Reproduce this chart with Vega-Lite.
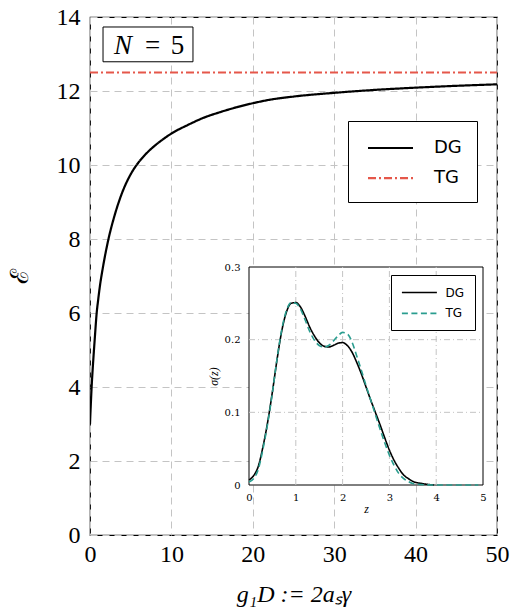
{
  "$schema": "https://vega.github.io/schema/vega-lite/v6.json",
  "width": 407,
  "height": 518,
  "autosize": {"type": "none"},
  "padding": {"left": 90, "top": 17, "right": 21, "bottom": 80},
  "background": "white",
  "config": {
    "font": "Liberation Serif",
    "view": {"stroke": "#000000", "strokeWidth": 1.2}
  },
  "datasets": {
    "main": [
      {"g": 0, "E": 3.0, "series": "DG"},
      {"g": 0.05, "E": 3.28, "series": "DG"},
      {"g": 0.1, "E": 3.53, "series": "DG"},
      {"g": 0.2, "E": 4.0, "series": "DG"},
      {"g": 0.3, "E": 4.38, "series": "DG"},
      {"g": 0.4, "E": 4.72, "series": "DG"},
      {"g": 0.6, "E": 5.35, "series": "DG"},
      {"g": 0.82, "E": 6.0, "series": "DG"},
      {"g": 1.0, "E": 6.35, "series": "DG"},
      {"g": 1.2, "E": 6.7, "series": "DG"},
      {"g": 1.6, "E": 7.25, "series": "DG"},
      {"g": 2.0, "E": 7.72, "series": "DG"},
      {"g": 2.25, "E": 7.98, "series": "DG"},
      {"g": 3, "E": 8.62, "series": "DG"},
      {"g": 4, "E": 9.28, "series": "DG"},
      {"g": 5, "E": 9.75, "series": "DG"},
      {"g": 5.5, "E": 9.93, "series": "DG"},
      {"g": 6, "E": 10.08, "series": "DG"},
      {"g": 7, "E": 10.33, "series": "DG"},
      {"g": 8, "E": 10.53, "series": "DG"},
      {"g": 9, "E": 10.7, "series": "DG"},
      {"g": 10, "E": 10.85, "series": "DG"},
      {"g": 12, "E": 11.08, "series": "DG"},
      {"g": 14, "E": 11.28, "series": "DG"},
      {"g": 16, "E": 11.43, "series": "DG"},
      {"g": 18, "E": 11.56, "series": "DG"},
      {"g": 20, "E": 11.67, "series": "DG"},
      {"g": 22, "E": 11.76, "series": "DG"},
      {"g": 25, "E": 11.85, "series": "DG"},
      {"g": 30, "E": 11.95, "series": "DG"},
      {"g": 35, "E": 12.03, "series": "DG"},
      {"g": 40, "E": 12.09, "series": "DG"},
      {"g": 45, "E": 12.14, "series": "DG"},
      {"g": 50, "E": 12.18, "series": "DG"},
      {"g": 0, "E": 12.5, "series": "TG"},
      {"g": 50, "E": 12.5, "series": "TG"}
    ],
    "inset": [
      {"z": 0, "s": 0.007, "series": "DG"},
      {"z": 0.1, "s": 0.013, "series": "DG"},
      {"z": 0.2, "s": 0.026, "series": "DG"},
      {"z": 0.3, "s": 0.053, "series": "DG"},
      {"z": 0.4, "s": 0.087, "series": "DG"},
      {"z": 0.5, "s": 0.128, "series": "DG"},
      {"z": 0.6, "s": 0.173, "series": "DG"},
      {"z": 0.7, "s": 0.212, "series": "DG"},
      {"z": 0.8, "s": 0.238, "series": "DG"},
      {"z": 0.9, "s": 0.25, "series": "DG"},
      {"z": 1.0, "s": 0.251, "series": "DG"},
      {"z": 1.1, "s": 0.245, "series": "DG"},
      {"z": 1.2, "s": 0.232, "series": "DG"},
      {"z": 1.3, "s": 0.217, "series": "DG"},
      {"z": 1.4, "s": 0.205, "series": "DG"},
      {"z": 1.5, "s": 0.196, "series": "DG"},
      {"z": 1.6, "s": 0.191, "series": "DG"},
      {"z": 1.7, "s": 0.19, "series": "DG"},
      {"z": 1.8, "s": 0.192, "series": "DG"},
      {"z": 1.9, "s": 0.195, "series": "DG"},
      {"z": 2.0, "s": 0.196, "series": "DG"},
      {"z": 2.1, "s": 0.192, "series": "DG"},
      {"z": 2.2, "s": 0.183, "series": "DG"},
      {"z": 2.3, "s": 0.169, "series": "DG"},
      {"z": 2.4, "s": 0.153, "series": "DG"},
      {"z": 2.5, "s": 0.135, "series": "DG"},
      {"z": 2.6, "s": 0.117, "series": "DG"},
      {"z": 2.7, "s": 0.1, "series": "DG"},
      {"z": 2.8, "s": 0.083, "series": "DG"},
      {"z": 2.9, "s": 0.065, "series": "DG"},
      {"z": 3.0, "s": 0.048, "series": "DG"},
      {"z": 3.1, "s": 0.034, "series": "DG"},
      {"z": 3.2, "s": 0.023, "series": "DG"},
      {"z": 3.3, "s": 0.014, "series": "DG"},
      {"z": 3.4, "s": 0.009, "series": "DG"},
      {"z": 3.5, "s": 0.005, "series": "DG"},
      {"z": 3.6, "s": 0.003, "series": "DG"},
      {"z": 3.7, "s": 0.002, "series": "DG"},
      {"z": 3.8, "s": 0.001, "series": "DG"},
      {"z": 3.9, "s": 0.0003, "series": "DG"},
      {"z": 3.95, "s": 0, "series": "DG"},
      {"z": 0, "s": 0.004, "series": "TG"},
      {"z": 0.1, "s": 0.009, "series": "TG"},
      {"z": 0.2, "s": 0.022, "series": "TG"},
      {"z": 0.3, "s": 0.05, "series": "TG"},
      {"z": 0.4, "s": 0.085, "series": "TG"},
      {"z": 0.5, "s": 0.127, "series": "TG"},
      {"z": 0.6, "s": 0.174, "series": "TG"},
      {"z": 0.7, "s": 0.214, "series": "TG"},
      {"z": 0.8, "s": 0.24, "series": "TG"},
      {"z": 0.9, "s": 0.251, "series": "TG"},
      {"z": 1.0, "s": 0.25, "series": "TG"},
      {"z": 1.1, "s": 0.242, "series": "TG"},
      {"z": 1.2, "s": 0.227, "series": "TG"},
      {"z": 1.3, "s": 0.211, "series": "TG"},
      {"z": 1.4, "s": 0.199, "series": "TG"},
      {"z": 1.5, "s": 0.192, "series": "TG"},
      {"z": 1.6, "s": 0.19, "series": "TG"},
      {"z": 1.7, "s": 0.192, "series": "TG"},
      {"z": 1.8, "s": 0.198, "series": "TG"},
      {"z": 1.9, "s": 0.205, "series": "TG"},
      {"z": 2.0, "s": 0.21, "series": "TG"},
      {"z": 2.1, "s": 0.208, "series": "TG"},
      {"z": 2.2, "s": 0.197, "series": "TG"},
      {"z": 2.3, "s": 0.178, "series": "TG"},
      {"z": 2.4, "s": 0.158, "series": "TG"},
      {"z": 2.5, "s": 0.137, "series": "TG"},
      {"z": 2.6, "s": 0.117, "series": "TG"},
      {"z": 2.7, "s": 0.097, "series": "TG"},
      {"z": 2.8, "s": 0.077, "series": "TG"},
      {"z": 2.9, "s": 0.058, "series": "TG"},
      {"z": 3.0, "s": 0.041, "series": "TG"},
      {"z": 3.1, "s": 0.027, "series": "TG"},
      {"z": 3.2, "s": 0.016, "series": "TG"},
      {"z": 3.3, "s": 0.009, "series": "TG"},
      {"z": 3.4, "s": 0.005, "series": "TG"},
      {"z": 3.5, "s": 0.002, "series": "TG"},
      {"z": 3.6, "s": 0.001, "series": "TG"},
      {"z": 3.8, "s": 0.0002, "series": "TG"},
      {"z": 4.0, "s": 0, "series": "TG"},
      {"z": 4.5, "s": 0, "series": "TG"},
      {"z": 4.9, "s": 0, "series": "TG"}
    ],
    "gridz": [{"z": 1}, {"z": 2}, {"z": 3}, {"z": 4}],
    "grids": [{"s": 0.1}, {"s": 0.2}],
    "label": [{"n": "N", "eq": "=", "v": "5"}]
  },
  "layer": [
    {
      "layer": [
        {
          "data": {"name": "main"},
          "mark": {"type": "line", "strokeWidth": 2.2, "clip": true, "interpolate": "monotone"},
          "encoding": {
            "x": {
              "field": "g", "type": "quantitative",
              "scale": {"domain": [0, 50], "nice": false, "zero": false},
              "title": "g₁D := 2aₛγ",
              "axis": {
                "values": [0, 10, 20, 30, 40, 50], "format": "d",
                "labelFont": "Liberation Serif", "labelFontSize": 24, "labelColor": "#000",
                "labelPadding": 7, "labelFlush": false, "labelOverlap": false, "ticks": false, "domain": false,
                "grid": true, "gridColor": "#c4c4c4", "gridDash": [7, 5], "gridWidth": 1,
                "titleFont": "Liberation Serif", "titleFontSize": 24, "titleFontWeight": "normal", "titleFontStyle": "italic",
                "titleColor": "#000", "titlePadding": 16
              }
            },
            "y": {
              "field": "E", "type": "quantitative",
              "scale": {"domain": [0, 14], "nice": false, "zero": false},
              "title": "ℰ",
              "axis": {
                "values": [0, 2, 4, 6, 8, 10, 12, 14], "format": "d",
                "labelFont": "Liberation Serif", "labelFontSize": 24, "labelColor": "#000",
                "labelPadding": 10, "labelOverlap": false, "labelFlush": false, "ticks": false, "domain": false,
                "grid": true, "gridColor": "#c4c4c4", "gridDash": [7, 5], "gridWidth": 1,
                "titleFont": "DejaVu Serif", "titleFontSize": 25, "titleFontWeight": "normal",
                "titleColor": "#000", "titlePadding": 24
              }
            },
            "color": {
              "field": "series", "type": "nominal",
              "scale": {"domain": ["DG", "TG"], "range": ["#000000", "#e5574a"]},
              "legend": {
                "title": null, "orient": "none", "legendX": 258, "legendY": 104,
                "symbolType": "M-2,0H2", "symbolSize": 506, "symbolStrokeWidth": 2.2, "symbolOffset": 15.5,
                "labelFont": "DejaVu Sans", "labelFontSize": 18, "labelColor": "#000", "labelOffset": 31,
                "padding": 14.5, "rowPadding": 8.2, "strokeColor": "#000", "fillColor": "white", "cornerRadius": 0
              }
            },
            "strokeDash": {
              "field": "series", "type": "nominal",
              "scale": {"domain": ["DG", "TG"], "range": [[1, 0], [8, 3, 2, 3]]},
              "legend": {
                "title": null, "orient": "none", "legendX": 258, "legendY": 104,
                "symbolType": "M-2,0H2", "symbolSize": 506, "symbolStrokeWidth": 2.2, "symbolOffset": 15.5,
                "labelFont": "DejaVu Sans", "labelFontSize": 18, "labelColor": "#000", "labelOffset": 31,
                "padding": 14.5, "rowPadding": 8.2, "strokeColor": "#000", "fillColor": "white", "cornerRadius": 0
              }
            }
          }
        },
        {
          "data": {"name": "label"},
          "mark": {"type": "rect", "fill": "white", "stroke": "#000", "strokeWidth": 1},
          "encoding": {
            "x": {"datum": 1.6, "type": "quantitative"},
            "x2": {"datum": 12.65},
            "y": {"datum": 13.73, "type": "quantitative"},
            "y2": {"datum": 12.79}
          }
        },
        {
          "data": {"name": "label"},
          "mark": {"type": "text", "font": "Liberation Serif", "fontStyle": "italic", "fontSize": 27, "align": "center", "baseline": "alphabetic", "color": "#000"},
          "encoding": {
            "x": {"datum": 4.05, "type": "quantitative"},
            "y": {"datum": 13.0, "type": "quantitative"},
            "text": {"field": "n"}
          }
        },
        {
          "data": {"name": "label"},
          "mark": {"type": "text", "font": "Liberation Serif", "fontSize": 27, "align": "center", "baseline": "alphabetic", "color": "#000"},
          "encoding": {
            "x": {"datum": 7.68, "type": "quantitative"},
            "y": {"datum": 13.0, "type": "quantitative"},
            "text": {"field": "eq"}
          }
        },
        {
          "data": {"name": "label"},
          "mark": {"type": "text", "font": "Liberation Serif", "fontSize": 27, "align": "center", "baseline": "alphabetic", "color": "#000"},
          "encoding": {
            "x": {"datum": 10.75, "type": "quantitative"},
            "y": {"datum": 13.0, "type": "quantitative"},
            "text": {"field": "v"}
          }
        }
      ]
    },
    {
      "layer": [
        {
          "data": {"name": "label"},
          "mark": {"type": "rect", "fill": "white", "stroke": "#000", "strokeWidth": 1},
          "encoding": {
            "x": {"datum": 0, "type": "quantitative", "scale": {"domain": [0, 5], "range": [159, 393], "nice": false, "zero": false}},
            "x2": {"datum": 5},
            "y": {"datum": 0, "type": "quantitative", "scale": {"domain": [0, 0.3], "range": [468, 250], "nice": false, "zero": false}},
            "y2": {"datum": 0.3}
          }
        },
        {
          "data": {"name": "gridz"},
          "mark": {"type": "rule", "stroke": "#c4c4c4", "strokeWidth": 1, "strokeDash": [6, 3, 1, 3]},
          "encoding": {
            "x": {"field": "z", "type": "quantitative"},
            "y": {"datum": 0, "type": "quantitative"},
            "y2": {"datum": 0.3}
          }
        },
        {
          "data": {"name": "grids"},
          "mark": {"type": "rule", "stroke": "#c4c4c4", "strokeWidth": 1, "strokeDash": [6, 3, 1, 3]},
          "encoding": {
            "y": {"field": "s", "type": "quantitative"},
            "x": {"datum": 0, "type": "quantitative"},
            "x2": {"datum": 5}
          }
        },
        {
          "data": {"name": "inset"},
          "mark": {"type": "line", "strokeWidth": 1.6, "interpolate": "monotone"},
          "encoding": {
            "x": {
              "field": "z", "type": "quantitative",
              "title": "z",
              "axis": {
                "orient": "bottom", "offset": -50, "values": [0, 1, 2, 3, 4, 5], "format": "~g",
                "labelFont": "DejaVu Serif", "labelFontSize": 10, "labelColor": "#000", "labelPadding": 7,
                "labelFlush": false, "labelOverlap": false, "ticks": false, "domain": false, "grid": false,
                "titleFont": "Liberation Serif", "titleFontStyle": "italic", "titleFontSize": 12, "titleFontWeight": "normal",
                "titleColor": "#000", "titlePadding": 1, "zindex": 1
              }
            },
            "y": {
              "field": "s", "type": "quantitative",
              "title": "σ(z)",
              "axis": {
                "orient": "left", "offset": -159, "values": [0, 0.1, 0.2, 0.3], "format": "~g",
                "labelFont": "DejaVu Serif", "labelFontSize": 10, "labelColor": "#000", "labelPadding": 9,
                "labelFlush": false, "labelOverlap": false, "ticks": false, "domain": false, "grid": false,
                "titleFont": "Liberation Serif", "titleFontStyle": "italic", "titleFontSize": 12, "titleFontWeight": "normal",
                "titleColor": "#000", "titlePadding": 4, "zindex": 1
              }
            },
            "color": {
              "field": "series", "type": "nominal",
              "scale": {"domain": ["DG", "TG"], "range": ["#000000", "#2a9d8f"]},
              "legend": {
                "title": null, "orient": "none", "legendX": 301, "legendY": 258,
                "symbolType": "M-3,0H3", "symbolSize": 136, "symbolStrokeWidth": 1.6, "symbolOffset": 10.9,
                "labelFont": "DejaVu Sans", "labelFontSize": 12, "labelColor": "#000", "labelOffset": 19,
                "padding": 10.5, "rowPadding": 7.9, "strokeColor": "#000", "fillColor": "white", "cornerRadius": 0
              }
            },
            "strokeDash": {
              "field": "series", "type": "nominal",
              "scale": {"domain": ["DG", "TG"], "range": [[1, 0], [6, 3.5]]},
              "legend": {
                "title": null, "orient": "none", "legendX": 301, "legendY": 258,
                "symbolType": "M-3,0H3", "symbolSize": 136, "symbolStrokeWidth": 1.6, "symbolOffset": 10.9,
                "labelFont": "DejaVu Sans", "labelFontSize": 12, "labelColor": "#000", "labelOffset": 19,
                "padding": 10.5, "rowPadding": 7.9, "strokeColor": "#000", "fillColor": "white", "cornerRadius": 0
              }
            }
          }
        }
      ]
    }
  ],
  "resolve": {
    "scale": {"x": "independent", "y": "independent", "color": "independent", "strokeDash": "independent"},
    "axis": {"x": "independent", "y": "independent"},
    "legend": {"color": "independent", "strokeDash": "independent"}
  }
}
